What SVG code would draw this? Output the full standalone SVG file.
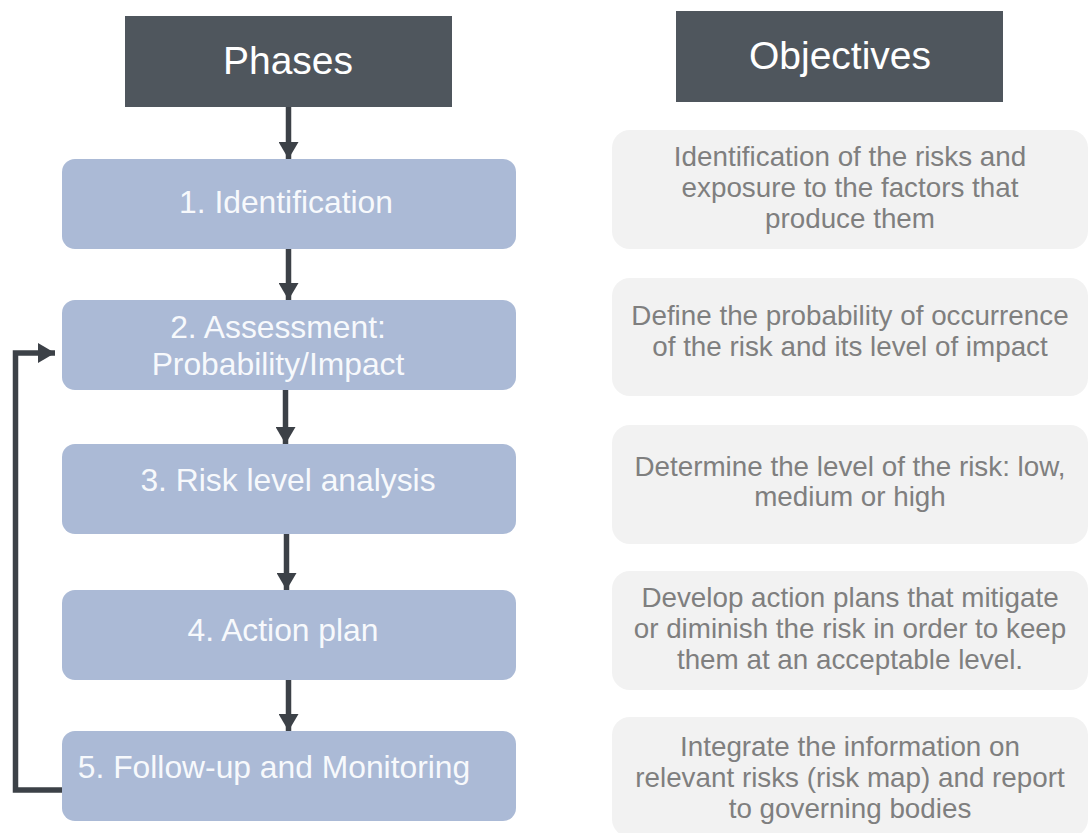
<svg xmlns="http://www.w3.org/2000/svg" width="1088" height="833" viewBox="0 0 1088 833">
<style>
.hdr{fill:#4f565d}
.hdrt{font-family:"Liberation Sans",Arial,sans-serif;font-size:39px;fill:#ffffff;text-anchor:middle}
.ph{fill:#abbad6}
.pht{font-family:"Liberation Sans",Arial,sans-serif;font-size:31.8px;fill:#f7f9fc;text-anchor:middle}
.ob{fill:#f2f2f2}
.obt{font-family:"Liberation Sans",Arial,sans-serif;font-size:27.8px;fill:#7f7f7f;text-anchor:middle}
.con{fill:none;stroke:#3c4147;stroke-width:5.5}
</style>
<defs>
<marker id="ah" markerUnits="userSpaceOnUse" markerWidth="18" markerHeight="20" refX="17" refY="10" orient="auto">
<path d="M0,0 L17,10 L0,20 z" fill="#3c4147"/>
</marker>
</defs>
<rect width="1088" height="833" fill="#ffffff"/>
<g id="phases-header">
<rect class="hdr" x="125" y="16" width="327" height="91"/>
<text class="hdrt" x="288" y="74">Phases</text>
</g>
<g id="objectives-header">
<rect class="hdr" x="676" y="11" width="327" height="91"/>
<text class="hdrt" x="840" y="69">Objectives</text>
</g>
<g id="phase1">
<rect class="ph" x="62" y="159" width="454" height="90" rx="13"/>
<text class="pht" x="286" y="213">1. Identification</text>
</g>
<g id="phase2">
<rect class="ph" x="62" y="300" width="454" height="90" rx="13"/>
<text class="pht" x="278" y="338">2. Assessment:</text>
<text class="pht" x="278" y="375">Probability/Impact</text>
</g>
<g id="phase3">
<rect class="ph" x="62" y="444" width="454" height="90" rx="13"/>
<text class="pht" x="288" y="491">3. Risk level analysis</text>
</g>
<g id="phase4">
<rect class="ph" x="62" y="590" width="454" height="90" rx="13"/>
<text class="pht" x="283" y="641">4. Action plan</text>
</g>
<g id="phase5">
<rect class="ph" x="62" y="731" width="454" height="90" rx="13"/>
<text class="pht" x="274" y="778">5. Follow-up and Monitoring</text>
</g>
<g id="objective1">
<rect class="ob" x="612" y="130" width="476" height="119" rx="18"/>
<text class="obt" x="850" y="166">Identification of the risks and</text>
<text class="obt" x="850" y="197">exposure to the factors that</text>
<text class="obt" x="850" y="228">produce them</text>
</g>
<g id="objective2">
<rect class="ob" x="612" y="278" width="476" height="118" rx="18"/>
<text class="obt" x="850" y="325">Define the probability of occurrence</text>
<text class="obt" x="850" y="356">of the risk and its level of impact</text>
</g>
<g id="objective3">
<rect class="ob" x="612" y="425" width="476" height="119" rx="18"/>
<text class="obt" x="850" y="476">Determine the level of the risk: low,</text>
<text class="obt" x="850" y="506">medium or high</text>
</g>
<g id="objective4">
<rect class="ob" x="612" y="571" width="476" height="119" rx="18"/>
<text class="obt" x="850" y="607">Develop action plans that mitigate</text>
<text class="obt" x="850" y="638">or diminish the risk in order to keep</text>
<text class="obt" x="850" y="669">them at an acceptable level.</text>
</g>
<g id="objective5">
<rect class="ob" x="612" y="717" width="476" height="120" rx="18"/>
<text class="obt" x="850" y="756">Integrate the information on</text>
<text class="obt" x="850" y="787">relevant risks (risk map) and report</text>
<text class="obt" x="850" y="818">to governing bodies</text>
</g>
<g id="connectors">
<line class="con" x1="288.5" y1="107" x2="288.5" y2="159" marker-end="url(#ah)"/>
<line class="con" x1="288.5" y1="249" x2="288.5" y2="300" marker-end="url(#ah)"/>
<line class="con" x1="285.5" y1="390" x2="285.5" y2="444" marker-end="url(#ah)"/>
<line class="con" x1="286.5" y1="534" x2="286.5" y2="590" marker-end="url(#ah)"/>
<line class="con" x1="288.5" y1="680" x2="288.5" y2="731" marker-end="url(#ah)"/>
<path class="con" d="M62,790 H15.5 V353 H55" marker-end="url(#ah)"/>
</g>
</svg>
